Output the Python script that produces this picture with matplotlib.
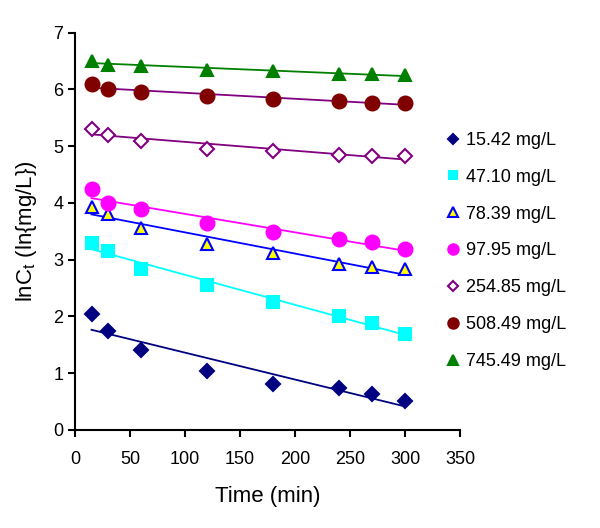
import numpy as np
import matplotlib.pyplot as plt

plt.rcParams['font.family'] = ['Liberation Sans', 'DejaVu Sans']

# data
time = [15, 30, 60, 120, 180, 240, 270, 300]
labels = ['15.42 mg/L', '47.10 mg/L', '78.39 mg/L', '97.95 mg/L',
          '254.85 mg/L', '508.49 mg/L', '745.49 mg/L']
c1 = [2.04, 1.74, 1.40, 1.04, 0.81, 0.74, 0.63, 0.51]
c2 = [3.29, 3.15, 2.84, 2.55, 2.25, 2.01, 1.89, 1.68]
c3 = [3.92, 3.80, 3.56, 3.27, 3.11, 2.93, 2.87, 2.83]
c4 = [4.24, 3.99, 3.90, 3.64, 3.48, 3.36, 3.31, 3.18]
c5 = [5.31, 5.19, 5.10, 4.95, 4.92, 4.84, 4.83, 4.82]
c6 = [6.10, 6.01, 5.95, 5.88, 5.83, 5.79, 5.77, 5.76]
c7 = [6.51, 6.44, 6.42, 6.35, 6.32, 6.28, 6.27, 6.25]
series = [c1, c2, c3, c4, c5, c6, c7]

# marker styles: (marker, face, edge, size, line colour)
styles = [
    ('D', '#000080', '#000080', 7, '#000080'),
    ('s', '#00FFFF', '#00FFFF', 8, '#00FFFF'),
    ('^', '#FFFF00', '#0000FF', 9, '#0000FF'),
    ('o', '#FF00FF', '#FF00FF', 10, '#FF00FF'),
    ('D', 'white', '#800080', 7, '#800080'),
    ('o', '#800000', '#800000', 10, '#800080'),
    ('^', '#008000', '#008000', 9, '#008000'),
]

fig = plt.figure(figsize=(6, 5.28), dpi=100)
ax = fig.add_axes([0.125, 0.186, 0.642, 0.752])

t = np.array(time, dtype=float)
handles = []
for y, lab, (m, fc, ec, ms, lc) in zip(series, labels, styles):
    # linear trend line
    k, b = np.polyfit(t, y, 1)
    ax.plot([t[0], t[-1]], [k * t[0] + b, k * t[-1] + b], color=lc, lw=1.3, zorder=2)
    h, = ax.plot(t, y, ls='none', marker=m, markersize=ms,
                 markerfacecolor=fc, markeredgecolor=ec, markeredgewidth=1.5,
                 label=lab, zorder=3)
    handles.append(h)

ax.set_xlim(0, 350)
ax.set_ylim(0, 7)
ax.set_xticks(range(0, 351, 50))
ax.set_yticks(range(0, 8))
ax.spines['top'].set_visible(False)
ax.spines['right'].set_visible(False)
ax.spines['left'].set_linewidth(1.5)
ax.spines['bottom'].set_linewidth(1.5)
ax.tick_params(direction='out', length=5, width=1.5, labelsize=13)
ax.tick_params(axis='x', pad=10)
ax.set_xlabel('Time (min)', fontsize=16, labelpad=13)
ax.set_ylabel(r'lnC$_\mathregular{t}$ (ln{mg/L})', fontsize=16, labelpad=10)

fig.legend(handles=handles, loc='upper left', bbox_to_anchor=(0.71, 0.781),
           frameon=False, fontsize=13, handletextpad=0.1, labelspacing=1.1,
           handlelength=1.2, markerscale=0.75)

fig.savefig('out.png')
